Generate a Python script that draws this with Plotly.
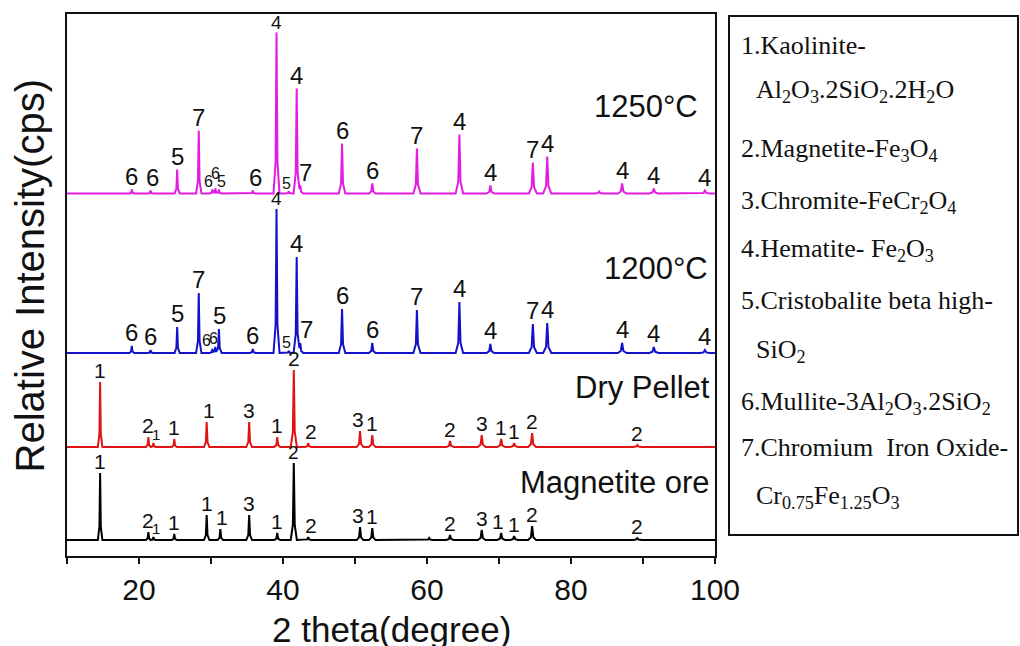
import numpy as np
import plotly.graph_objects as go

# ---------------- data ----------------
x_range = [10, 100]
x_tick_vals = [10, 20, 30, 40, 50, 60, 70, 80, 90, 100]
x_tick_text = [" ", "20", " ", "40", " ", "60", " ", "80", " ", "100"]

sample_names = ["Magnetite ore", "Dry Pellet", "1200°C", "1250°C"]
baseline_cps = [160, 1090, 2030, 3625]

ore_pos = [14.6, 21.3, 22.0, 24.9, 29.4, 31.3, 35.3, 39.2, 41.5, 43.5, 50.7, 52.4,
           60.3, 63.2, 67.6, 70.3, 72.1, 74.6, 89.2]
ore_int = [670, 80, 30, 60, 250, 110, 250, 70, 770, 30, 130, 120,
           20, 50, 100, 70, 40, 140, 20]
ore_lab = ["1", "2", "1", "1", "1", "1", "3", "1", "2", "2", "3", "1",
           "", "2", "3", "1", "1", "2", "2"]

pellet_pos = [14.6, 21.3, 22.0, 24.9, 29.4, 35.3, 39.2, 41.5, 43.5, 50.7, 52.4,
              63.2, 67.6, 70.3, 72.1, 74.6, 89.2]
pellet_int = [650, 100, 40, 80, 250, 250, 100, 770, 40, 160, 120,
              60, 120, 80, 40, 140, 20]
pellet_lab = ["1", "2", "1", "1", "1", "3", "1", "2", "2", "3", "1",
              "2", "3", "1", "1", "2", "2"]

c1200_pos = [19.0, 21.6, 25.3, 28.3, 30.2, 30.6, 31.1, 35.8, 39.1, 40.8, 41.9, 42.4,
             48.2, 52.4, 58.6, 64.5, 68.8, 74.7, 76.7, 87.1, 91.5, 98.6]
c1200_int = [70, 30, 260, 600, 40, 60, 240, 40, 1440, 20, 960, 100,
             440, 100, 430, 510, 90, 290, 300, 100, 60, 30]
c1200_lab = ["6", "6", "5", "7", "6", "6", "5", "6", "4", "5", "4", "7",
             "6", "6", "7", "4", "4", "7", "4", "4", "4", "4"]

c1250_pos = [19.0, 21.6, 25.3, 28.3, 30.2, 30.6, 31.1, 35.8, 39.1, 40.8, 41.9, 42.4,
             48.2, 52.4, 58.6, 64.5, 68.8, 74.7, 76.7, 83.9, 87.1, 91.5, 98.6]
c1250_int = [40, 30, 240, 630, 40, 50, 40, 30, 1610, 20, 1050, 80,
             500, 100, 450, 590, 80, 310, 370, 20, 100, 50, 30]
c1250_lab = ["6", "6", "5", "7", "6", "6", "5", "6", "4", "5", "4", "7",
             "6", "6", "7", "4", "4", "7", "4", "", "4", "4", "4"]

phase_legend = [
    ("1.Kaolinite-", False),
    ("Al<sub>2</sub>O<sub>3</sub>.2SiO<sub>2</sub>.2H<sub>2</sub>O", True),
    ("2.Magnetite-Fe<sub>3</sub>O<sub>4</sub>", False),
    ("3.Chromite-FeCr<sub>2</sub>O<sub>4</sub>", False),
    ("4.Hematite- Fe<sub>2</sub>O<sub>3</sub>", False),
    ("5.Cristobalite beta high-", False),
    ("SiO<sub>2</sub>", True),
    ("6.Mullite-3Al<sub>2</sub>O<sub>3</sub>.2SiO<sub>2</sub>", False),
    ("7.Chromium&nbsp; Iron Oxide-", False),
    ("Cr<sub>0.75</sub>Fe<sub>1.25</sub>O<sub>3</sub>", True),
]

patterns = [
    (ore_pos, ore_int, ore_lab),
    (pellet_pos, pellet_int, pellet_lab),
    (c1200_pos, c1200_int, c1200_lab),
    (c1250_pos, c1250_int, c1250_lab),
]

# ---------------- styles ----------------
colors = ["#000000", "#E01414", "#1212C8", "#E21CE2"]
label_size = [21, 21, 24, 24]
SMALL = 16
label_style = {
    (3, 21.6): dict(dx=2), (3, 30.2): dict(size=SMALL, dx=-4), (3, 30.6): dict(size=SMALL, dy=5),
    (3, 31.1): dict(size=SMALL, dx=3), (3, 35.8): dict(dx=3), (3, 39.1): dict(size=19),
    (3, 40.8): dict(size=SMALL, dx=-2), (3, 42.4): dict(dx=5),
    (2, 30.2): dict(size=SMALL, dx=-6), (2, 30.6): dict(size=SMALL, dx=-2), (2, 31.1): dict(dx=1),
    (2, 39.1): dict(size=19), (2, 40.8): dict(size=SMALL, dx=-2), (2, 42.4): dict(dx=6),
    (1, 22.0): dict(size=15, dx=3), (1, 43.5): dict(dx=3), (1, 50.7): dict(dx=-2),
    (1, 29.4): dict(dx=2),
    (0, 22.0): dict(size=15, dx=3), (0, 31.3): dict(dx=2), (0, 41.5): dict(size=19),
    (0, 43.5): dict(dx=3), (0, 50.7): dict(dx=-2), (0, 70.3): dict(dx=-3),
}
sample_label_pos = [(712, 482.5), (712, 387), (710, 268.5), (700, 106)]  # pixel (right x, centre y)

# plot geometry in pixels
W, H = 1020, 646
L, R, T, B = 67, 305, 14, 90
PW, PH = W - L - R, H - T - B
Y_MAX = 5420
SANS = "Liberation Sans, Arial, sans-serif"
SERIF = "Liberation Serif, Times New Roman, serif"


def px_to_paper(px, py):
    return (px - L) / PW, (H - B - py) / PH


def peak_profile(pos, height):
    hw = 0.3 + 0.004 * (pos - 10)
    xs = [pos - hw, pos - 0.3 * hw, pos, pos + 0.3 * hw, pos + hw]
    ys = [0, 0.2 * height, height, 0.2 * height, 0]
    return xs, ys


fig = go.Figure()
annotations = []

for i, (pos_list, int_list, lab_list) in enumerate(patterns):
    profiles = [peak_profile(p, h) for p, h in zip(pos_list, int_list)]
    grid = sorted(set([x_range[0], x_range[1]] + [x for xs, _ in profiles for x in xs]))
    grid = np.array(grid)
    y = np.full_like(grid, float(baseline_cps[i]))
    for xs, ys in profiles:
        y += np.interp(grid, xs, ys, left=0, right=0)
    fig.add_trace(go.Scatter(x=grid, y=y, mode="lines", line=dict(color=colors[i], width=2),
                             name=sample_names[i], hoverinfo="skip", showlegend=False))
    for p, h, lab in zip(pos_list, int_list, lab_list):
        if not lab:
            continue
        st = label_style.get((i, p), {})
        annotations.append(dict(
            x=p, y=baseline_cps[i] + h, xref="x", yref="y", text=lab, showarrow=False,
            xanchor="center", yanchor="bottom", xshift=st.get("dx", 0), yshift=st.get("dy", -2),
            font=dict(family=SANS, size=st.get("size", label_size[i]), color="#111111")))

for i, name in enumerate(sample_names):
    px_, py_ = sample_label_pos[i]
    xp, yp = px_to_paper(px_, py_)
    annotations.append(dict(x=xp, y=yp, xref="paper", yref="paper", text=name, showarrow=False,
                            xanchor="right", yanchor="middle",
                            font=dict(family=SANS, size=31, color="#111111")))

# axis titles
xp, yp = px_to_paper(391, 629)
annotations.append(dict(x=xp, y=yp, xref="paper", yref="paper", text="2 theta(degree)",
                        showarrow=False, xanchor="center", yanchor="middle",
                        font=dict(family=SANS, size=35, color="#111111")))
xp, yp = px_to_paper(29, 276.5)
annotations.append(dict(x=xp, y=yp, xref="paper", yref="paper", text="Relative Intensity(cps)",
                        showarrow=False, xanchor="center", yanchor="middle", textangle=-90,
                        font=dict(family=SANS, size=40, color="#111111")))

# phase legend box
legend_y = [45, 91, 150, 202, 250, 300, 351, 403, 447, 497]
for (txt, indent), ly in zip(phase_legend, legend_y):
    xp, yp = px_to_paper(754 if indent else 739, ly)
    annotations.append(dict(x=xp, y=yp, xref="paper", yref="paper", text=txt, showarrow=False,
                            xanchor="left", yanchor="middle",
                            font=dict(family=SERIF, size=26, color="#111111")))

bx0, by0 = px_to_paper(729, 535)
bx1, by1 = px_to_paper(1018, 16)
shapes = [dict(type="rect", xref="paper", yref="paper", x0=bx0, y0=by0, x1=bx1, y1=by1,
               line=dict(color="#111111", width=2), fillcolor="rgba(0,0,0,0)")]

fig.update_layout(
    width=W, height=H,
    margin=dict(l=L, r=R, t=T, b=B, autoexpand=False),
    paper_bgcolor="white", plot_bgcolor="white",
    annotations=annotations, shapes=shapes,
    xaxis=dict(range=x_range, tickvals=x_tick_vals, ticktext=x_tick_text,
               showline=True, mirror=True, linecolor="#111111", linewidth=2,
               ticks="outside", ticklen=6, tickwidth=2, tickcolor="#111111",
               showgrid=False, zeroline=False, ticklabelstandoff=0,
               tickfont=dict(family=SANS, size=30, color="#111111")),
    yaxis=dict(range=[0, Y_MAX], showticklabels=False, ticks="",
               showline=True, mirror=True, linecolor="#111111", linewidth=2,
               showgrid=False, zeroline=False),
)

fig.write_html("out.html", config={"displayModeBar": False},
               post_script="document.body.style.margin='0px';document.body.style.overflow='hidden';")
